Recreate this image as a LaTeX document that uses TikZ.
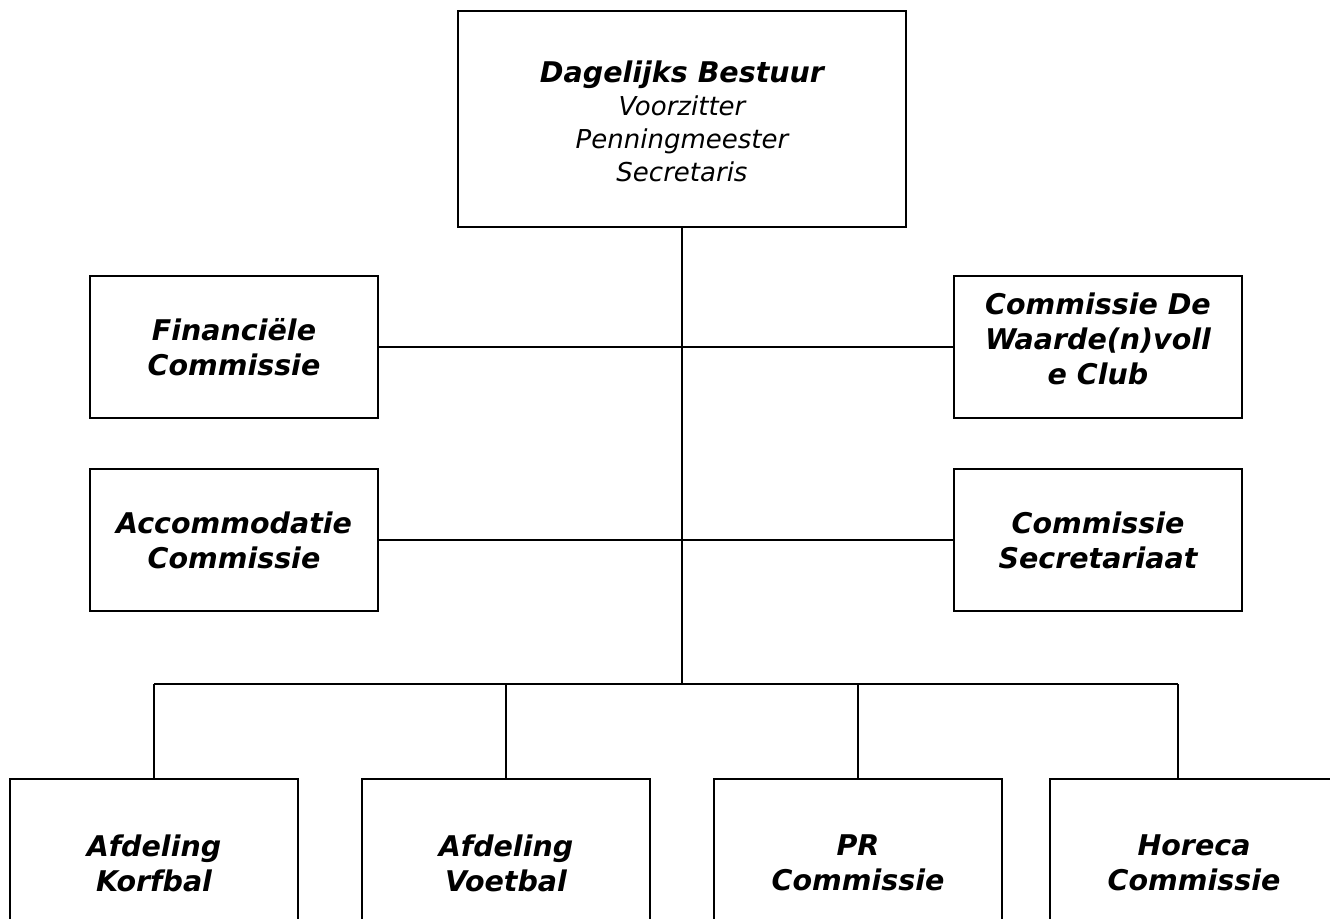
\documentclass[tikz,border=0pt]{standalone}
\usepackage{fontspec}
\setmainfont{DejaVu Sans}
\usepackage{tikz}
\newcommand{\lift}[1]{\rule{0pt}{#1}}        % extra height on a first line
\newcommand{\sink}[1]{\rule[-#1]{0pt}{#1}}   % extra depth on a last line

\begin{document}
\begin{tikzpicture}[
    x=1pt, y=-1pt,
    every node/.style={inner sep=0pt},
    unitbox/.style={draw, line width=2.4pt, minimum width=288pt, minimum height=142pt, align=center, font=\bfseries\itshape\fontsize{28.5}{35}\selectfont}, % committee boxes
    headbox/.style={unitbox, minimum width=448pt, minimum height=216pt, font=\itshape\fontsize{26}{33}\selectfont}, % board on top
    teambox/.style={unitbox, minimum height=168pt}, % bottom row
    link/.style={line width=2.4pt}
]
\useasboundingbox (0,0) rectangle (1330,918);
\clip (0,0) rectangle (1330,918);

\node[headbox] (board) at (682,119) {{\bfseries\fontsize{28.5}{33}\selectfont\lift{27pt}Dagelijks Bestuur}\\ Voorzitter\\ Penningmeester\\ Secretaris};

\node[unitbox] (fin) at (234,347) {Financiële\\ Commissie};
\node[unitbox] (acc) at (234,540) {Accommodatie\\ Commissie};
\node[unitbox] (club) at (1098,347) {Commissie De\\ Waarde(n)voll\\ e Club\sink{16pt}};
\node[unitbox] (secr) at (1098,540) {Commissie\\ Secretariaat};

\node[teambox] (korf) at (154,863) {Afdeling\\ Korfbal};
\node[teambox] (voet) at (506,863) {Afdeling\\ Voetbal};
\node[teambox] (pr) at (858,863) {PR\\ Commissie};
\node[teambox] (horeca) at (1194,863) {Horeca\\ Commissie};

% connectors
\coordinate (bus) at (682,684);
\draw[link] (board.south) -- (bus);
\draw[link] (fin.east) -- (club.west);
\draw[link] (acc.east) -- (secr.west);
\draw[link] (korf.north |- bus) -- ([xshift=-16pt]horeca.north |- bus);
\draw[link] (korf.north |- bus) -- (korf.north);
\draw[link] (voet.north |- bus) -- (voet.north);
\draw[link] (pr.north |- bus) -- (pr.north);
\draw[link] ([xshift=-16pt]horeca.north |- bus) -- ([xshift=-16pt]horeca.north);
\end{tikzpicture}
\end{document}
